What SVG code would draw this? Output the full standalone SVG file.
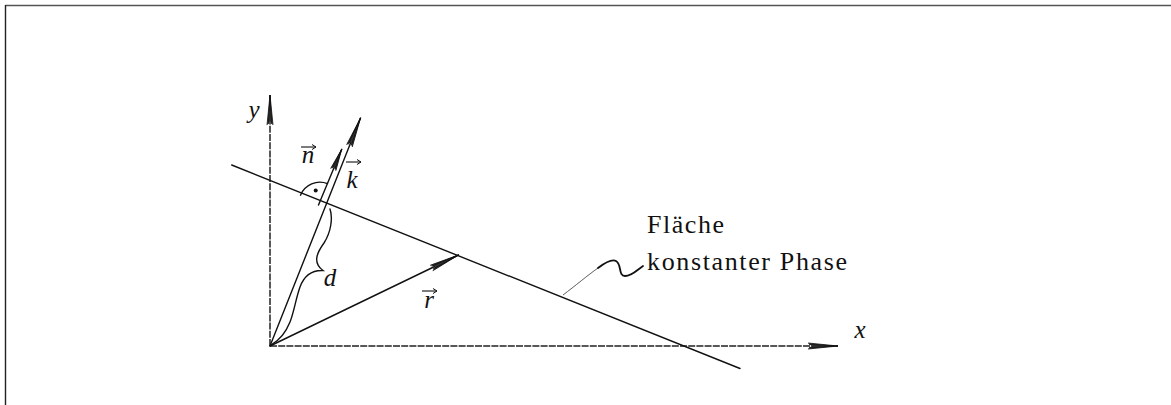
<svg xmlns="http://www.w3.org/2000/svg" width="1171" height="405" viewBox="0 0 1171 405">
<defs>
<style>
.ln{stroke:#111;stroke-width:1.4;fill:none;stroke-linecap:round}
.ax{stroke:#222;stroke-width:1.5;fill:none;stroke-dasharray:7 1.2}
.math{font-family:'Liberation Serif',serif;font-style:italic;font-size:25px;fill:#111}
.txt{font-family:'Liberation Serif',serif;font-size:26px;fill:#111}
.acc{stroke:#111;stroke-width:1.1;fill:none}
</style>
<marker id="arL" markerUnits="userSpaceOnUse" viewBox="-32 -5 34 10" refX="0" refY="0" markerWidth="34" markerHeight="10" orient="auto">
<path d="M0,0 L-30,-3 L-26,0 L-30,3 Z" fill="#333"/>
<path d="M0,0 L-30,-3 M0,0 L-30,3 M0,0 L-29,-1.5 M0,0 L-29,1.5" stroke="#111" stroke-width="0.8" fill="none"/>
</marker>
<marker id="arS" markerUnits="userSpaceOnUse" viewBox="-24 -5 26 10" refX="0" refY="0" markerWidth="26" markerHeight="10" orient="auto">
<path d="M0,0 L-22,-2.8 L-19,0 L-22,2.8 Z" fill="#333"/>
<path d="M0,0 L-22,-2.8 M0,0 L-22,2.8 M0,0 L-21,-1.3 M0,0 L-21,1.3" stroke="#111" stroke-width="0.8" fill="none"/>
</marker>
<marker id="acc" markerUnits="userSpaceOnUse" viewBox="-6 -4 7 8" refX="0" refY="0" markerWidth="7" markerHeight="8" orient="auto">
<path d="M-4,-2.5 L0,0 L-4,2.5" stroke="#111" stroke-width="1" fill="none"/>
</marker>
</defs>
<rect width="1171" height="405" fill="#fff"/>
<g id="frame">
<line x1="5.5" y1="5.5" x2="1171" y2="5.5" stroke="#555" stroke-width="1.6"/>
<line x1="5.5" y1="5" x2="5.5" y2="405" stroke="#222" stroke-width="1.4"/>
</g>
<g id="connectors">
<line id="x-axis" class="ax" x1="270" y1="346" x2="838" y2="346" marker-end="url(#arL)"/>
<line id="y-axis" class="ax" x1="270" y1="346" x2="270" y2="95" marker-end="url(#arL)"/>
<line id="plane" class="ln" x1="231.7" y1="165" x2="740" y2="368.5"/>
<line id="k-vec" class="ln" x1="270" y1="346" x2="360.5" y2="118" marker-end="url(#arL)"/>
<line id="n-vec" class="ln" x1="318.5" y1="205" x2="341.7" y2="149.3" marker-end="url(#arS)"/>
<line id="r-vec" class="ln" x1="270" y1="346" x2="458.5" y2="255" marker-end="url(#arL)"/>
<path id="right-angle" class="ln" d="M300.5,195.2 A21,21 0 0 1 327.5,183.6"/>
<circle cx="315.7" cy="190.5" r="2" fill="#111"/>
<path id="brace" class="ln" d="M330,209 C333,218 331,232 324,243 C316,254 313,263 323,270.5 C312,270 304,276 300,287 C296,298 294,312 290,322 C286,332 280,340 271,345"/>
<path id="leader-thin" d="M563,295 C575,286 588,275 598,268" stroke="#333" stroke-width="0.8" fill="none"/>
<path id="leader" d="M598,268 C606,262 612,259 616,261 C622,264 618,276 625,276 C632,276 637,270 643,266" stroke="#111" stroke-width="1.8" fill="none" stroke-linecap="round"/>
</g>
<g id="label-y"><text class="math" font-family="'Liberation Serif', serif" x="254" y="118" text-anchor="middle">y</text></g>
<g id="label-x"><text class="math" font-family="'Liberation Serif', serif" x="860" y="338" text-anchor="middle">x</text></g>
<g id="label-n"><text class="math" font-family="'Liberation Serif', serif" x="308" y="163" text-anchor="middle">n</text><line class="acc" x1="301" y1="147" x2="316" y2="147" marker-end="url(#acc)"/></g>
<g id="label-k"><text class="math" font-family="'Liberation Serif', serif" x="352" y="188" text-anchor="middle">k</text><line class="acc" x1="346" y1="162" x2="361" y2="162" marker-end="url(#acc)"/></g>
<g id="label-d"><text class="math" font-family="'Liberation Serif', serif" x="330" y="286" text-anchor="middle">d</text></g>
<g id="label-r"><text class="math" font-family="'Liberation Serif', serif" x="429" y="308" text-anchor="middle">r</text><line class="acc" x1="422" y1="291" x2="437" y2="291" marker-end="url(#acc)"/></g>
<g id="label-plane">
<text class="txt" font-family="'Liberation Serif', serif" x="647" y="233" textLength="77" lengthAdjust="spacing">Fläche</text>
<text class="txt" font-family="'Liberation Serif', serif" x="647" y="270" textLength="200" lengthAdjust="spacing">konstanter Phase</text>
</g>
</svg>
